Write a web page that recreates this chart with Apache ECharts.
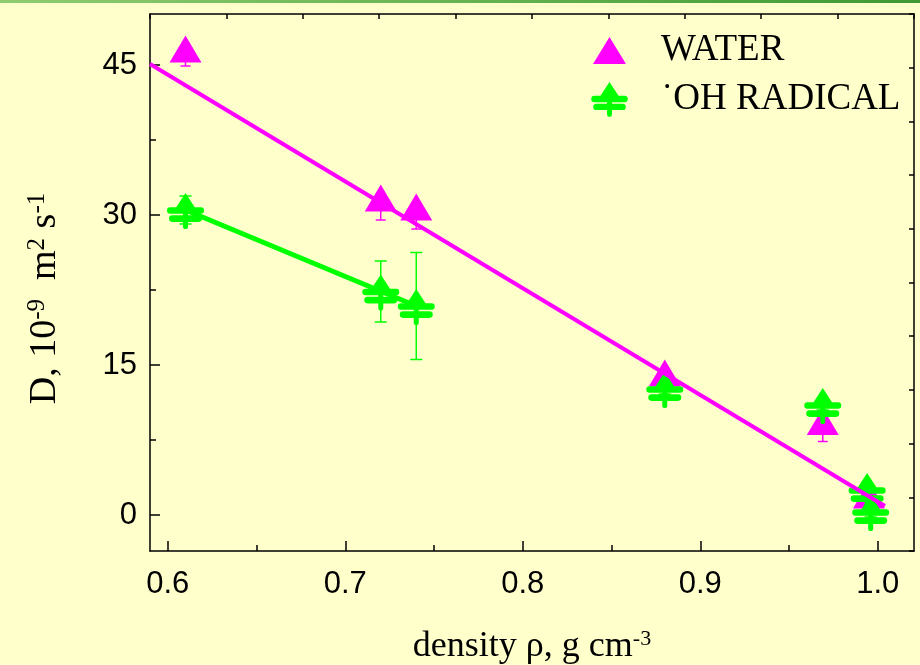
<!DOCTYPE html>
<html>
<head>
<meta charset="utf-8">
<script src="https://cdn.jsdelivr.net/npm/echarts@6/dist/echarts.min.js"></script>
<style>
html,body{margin:0;padding:0;background:#ffffcc;}
#chart{width:920px;height:665px;}
</style>
</head>
<body>
<div id="chart"></div>
<script>
// ---- data ----
const xTicks = [0.6, 0.7, 0.8, 0.9, 1.0];
const xMinorTicks = [0.65, 0.75, 0.85, 0.95];
const yTicks = [0, 15, 30, 45];
const yMinorTicks = [7.5, 22.5, 37.5];

const waterX = [0.61, 0.72, 0.74, 0.88, 0.969, 0.995];
const waterY = [46.6, 31.7, 30.8, 14.2, 9.35, 2.0];
const waterErrMinus = [1.7, 2.2, 2.2, 0.6, 2.0, 0.5];

const ohX = [0.61, 0.72, 0.74, 0.88, 0.969, 0.994, 0.996];
const ohY = [30.5, 22.35, 20.9, 12.6, 11.0, 2.5, 0.3];
const ohErr = [1.4, 3.05, 5.35, 0.5, 0.5, 0.5, 0.5];

const waterFitX = [0.59, 1.004];
const waterFitY = [45.1, 0.9];
const ohFitX = [0.61, 0.74];
const ohFitY = [30.5, 20.9];

const seriesNames = ['WATER', '\u02D9OH RADICAL'];

// ---- build ----
const MAGENTA = '#ff00ff';
const GREEN = '#00ff00';
function bar(x0, x1, a, b) {
  const r = (b - a) / 2;
  return 'M' + (x0 + r) + ' ' + a + ' L' + (x1 - r) + ' ' + a + ' A' + r + ' ' + r + ' 0 0 1 ' + (x1 - r) + ' ' + b +
    ' L' + (x0 + r) + ' ' + b + ' A' + r + ' ' + r + ' 0 0 1 ' + (x0 + r) + ' ' + a + ' Z ';
}
const treePath = 'path://M18.5 0 L31 19 L6 19 Z ' + bar(0, 37, 14, 20.5) + bar(2, 35, 22, 28.5) +
  'M16 7 L21 7 L21 33 A2.5 2.5 0 0 1 16 33 Z';
const triLegendPath = 'path://M0 0 M37 35 M18.5 4 L35 31 L2 31 Z';

function pairs(xs, ys) { return xs.map((x, i) => [x, ys[i]]); }
function errData(xs, ys, lo, hi) { return xs.map((x, i) => [x, ys[i] - lo[i], ys[i] + hi[i]]); }

function errRender(color, capW, showTopCap) {
  return function (params, api) {
    const lo = api.coord([api.value(0), api.value(1)]);
    const hi = api.coord([api.value(0), api.value(2)]);
    const st = { stroke: color, lineWidth: 1.5 };
    const ch = [
      { type: 'line', shape: { x1: lo[0], y1: lo[1], x2: hi[0], y2: hi[1] }, style: st },
      { type: 'line', shape: { x1: lo[0] - capW / 2, y1: lo[1], x2: lo[0] + capW / 2, y2: lo[1] }, style: st }
    ];
    if (showTopCap) ch.push({ type: 'line', shape: { x1: hi[0] - capW / 2, y1: hi[1], x2: hi[0] + capW / 2, y2: hi[1] }, style: st });
    return { type: 'group', children: ch };
  };
}

const axisLineStyle = { color: '#000', width: 1.5 };
const XMIN = 0.59, XMAX = 1.0204, YMIN = -3.6, YMAX = 50.1;
const zeros = waterX.map(() => 0);

const chart = echarts.init(document.getElementById('chart'), null, { renderer: 'canvas' });
chart.setOption({
  backgroundColor: '#ffffcc',
  animation: false,
  grid: { left: 150, right: 6, top: 14, bottom: 114, containLabel: false, outerBoundsMode: 'none' },
  graphic: [{
    type: 'rect', left: 0, top: 0, shape: { width: 920, height: 3 },
    style: { fill: new echarts.graphic.LinearGradient(0, 0, 1, 0, [
      { offset: 0, color: '#8fcc70' }, { offset: 1, color: '#3f9a33' }]) }
  }],
  legend: {
    orient: 'vertical', left: 586, top: 27,
    itemWidth: 37, itemHeight: 35, itemGap: 12,
    textStyle: { fontFamily: 'Liberation Serif', fontSize: 37, color: '#000', padding: [0, 0, 0, 28] },
    data: [
      { name: seriesNames[0], icon: triLegendPath },
      { name: seriesNames[1], icon: treePath }
    ]
  },
  xAxis: [{
    type: 'value', min: XMIN, max: XMAX, position: 'bottom',
    axisLine: { show: true, onZero: false, lineStyle: axisLineStyle },
    axisTick: { show: true, inside: true, length: 10, customValues: xTicks, lineStyle: axisLineStyle },
    axisLabel: { show: true, customValues: xTicks, formatter: v => v.toFixed(1), fontFamily: 'Liberation Sans', fontSize: 31, color: '#000', margin: 18 },
    splitLine: { show: false },
    name: '{a|density \u03C1, g cm}{s|-3}',
    nameLocation: 'middle', nameGap: 77,
    nameTextStyle: { rich: {
      a: { fontFamily: 'Liberation Serif', fontSize: 36, color: '#000' },
      s: { fontFamily: 'Liberation Serif', fontSize: 22, color: '#000', verticalAlign: 'top', padding: [0, 0, 16, 0] }
    } }
  }, {
    type: 'value', min: XMIN, max: XMAX, position: 'bottom',
    axisLine: { show: false, onZero: false },
    axisTick: { show: true, inside: true, length: 6, customValues: xMinorTicks, lineStyle: axisLineStyle },
    axisLabel: { show: false }, splitLine: { show: false }
  }, {
    type: 'value', min: 0, max: 10, interval: 1, position: 'top',
    axisLine: { show: true, onZero: false, lineStyle: axisLineStyle },
    axisTick: { show: true, inside: true, length: 5, lineStyle: axisLineStyle },
    axisLabel: { show: false }, splitLine: { show: false }
  }],
  yAxis: [{
    type: 'value', min: YMIN, max: YMAX, position: 'left',
    axisLine: { show: true, onZero: false, lineStyle: axisLineStyle },
    axisTick: { show: true, inside: true, length: 10, customValues: yTicks, lineStyle: axisLineStyle },
    axisLabel: { show: true, customValues: yTicks, fontFamily: 'Liberation Sans', fontSize: 31, color: '#000', margin: 13 },
    splitLine: { show: false },
    name: '{a|D, 10}{s|-9}{a|  m}{s|2}{a| s}{s|-1}',
    nameLocation: 'middle', nameGap: 84, nameRotate: 90,
    nameTextStyle: { padding: [0, 32, 0, 0], rich: {
      a: { fontFamily: 'Liberation Serif', fontSize: 38, color: '#000' },
      s: { fontFamily: 'Liberation Serif', fontSize: 25, color: '#000', verticalAlign: 'top', padding: [0, 0, 16, 0] }
    } }
  }, {
    type: 'value', min: YMIN, max: YMAX, position: 'left',
    axisLine: { show: false, onZero: false },
    axisTick: { show: true, inside: true, length: 6, customValues: yMinorTicks, lineStyle: axisLineStyle },
    axisLabel: { show: false }, splitLine: { show: false }
  }, {
    type: 'value', min: 0, max: 10, interval: 1, position: 'right',
    axisLine: { show: true, onZero: false, lineStyle: axisLineStyle },
    axisTick: { show: true, inside: true, length: 5, lineStyle: axisLineStyle },
    axisLabel: { show: false }, splitLine: { show: false }
  }],
  series: [
    {
      type: 'custom', name: 'waterErr', xAxisIndex: 0, yAxisIndex: 0, z: 1,
      renderItem: errRender(MAGENTA, 10, false), data: errData(waterX, waterY, waterErrMinus, zeros), silent: true
    },
    {
      type: 'custom', name: 'ohErr', xAxisIndex: 0, yAxisIndex: 0, z: 1,
      renderItem: errRender(GREEN, 12, true), data: errData(ohX, ohY, ohErr, ohErr), silent: true
    },
    {
      type: 'scatter', name: seriesNames[0], xAxisIndex: 0, yAxisIndex: 0, z: 2,
      symbol: 'triangle', symbolSize: [32, 27], itemStyle: { color: MAGENTA, opacity: 1 },
      data: pairs(waterX, waterY)
    },
    {
      type: 'scatter', name: seriesNames[1], xAxisIndex: 0, yAxisIndex: 0, z: 3,
      symbol: treePath, symbolSize: [37, 36], symbolOffset: [0, 1], itemStyle: { color: GREEN, opacity: 1 },
      data: pairs(ohX, ohY)
    },
    {
      type: 'line', name: 'waterFit', xAxisIndex: 0, yAxisIndex: 0, z: 4,
      showSymbol: false, symbol: 'none', lineStyle: { color: MAGENTA, width: 4 },
      data: pairs(waterFitX, waterFitY)
    },
    {
      type: 'line', name: 'ohFit', xAxisIndex: 0, yAxisIndex: 0, z: 2,
      showSymbol: false, symbol: 'none', lineStyle: { color: GREEN, width: 5 },
      data: pairs(ohFitX, ohFitY)
    }
  ]
});
</script>
</body>
</html>
